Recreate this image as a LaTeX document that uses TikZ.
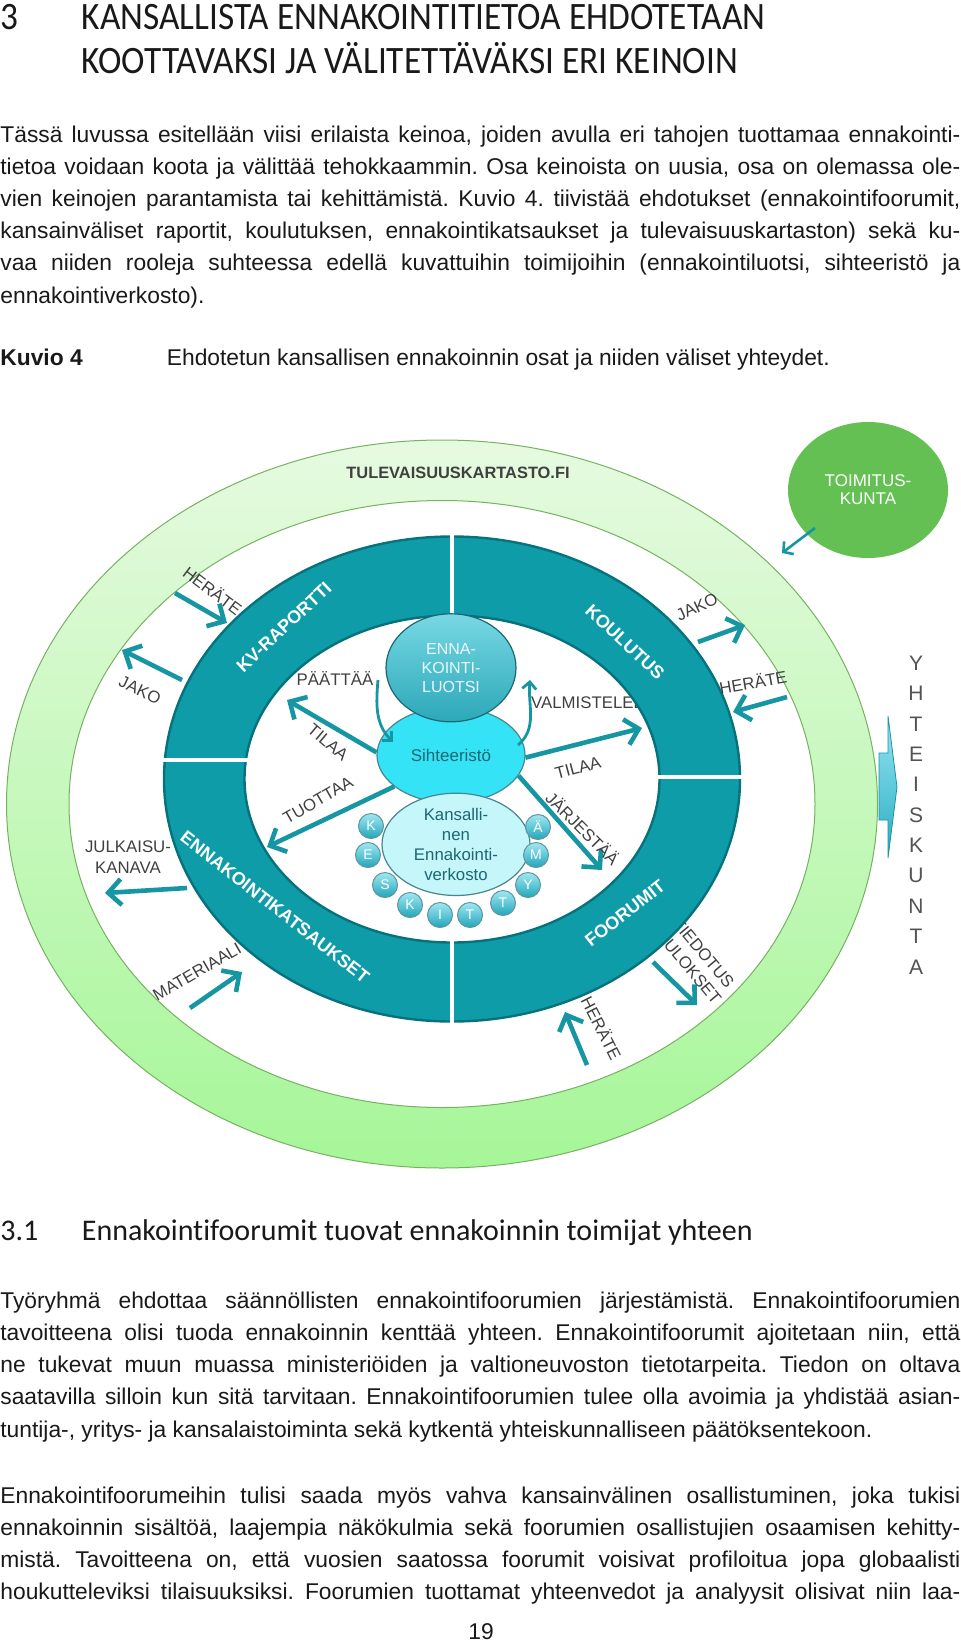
\documentclass[tikz,border=0pt]{standalone}
\usepackage{fontspec}
\setmainfont{Liberation Sans}
\newfontfamily\headfont[FakeStretch=0.91, Ligatures=NoCommon]{Carlito}
\newfontfamily\subheadfont[Ligatures=NoCommon]{Carlito}
\usepackage{xcolor}
\usetikzlibrary{shapes.geometric, arrows.meta, positioning}
\frenchspacing

\definecolor{bodyblack}{RGB}{25,25,25}
\definecolor{ringteal}{RGB}{14,156,168}
\definecolor{ringedge}{RGB}{8,114,124}
\definecolor{arrowteal}{RGB}{22,150,162}
\definecolor{bandtop}{RGB}{230,250,224}
\definecolor{bandbottom}{RGB}{166,246,152}
\definecolor{bandedge}{RGB}{118,178,98}
\definecolor{toimgreen}{RGB}{100,192,82}
\definecolor{labelgray}{RGB}{64,64,64}
\definecolor{darkteal}{RGB}{28,104,114}
\definecolor{luotsitop}{RGB}{120,216,228}
\definecolor{luotsibot}{RGB}{44,168,184}
\definecolor{sihtcyan}{RGB}{52,228,246}
\definecolor{verklight}{RGB}{196,246,250}
\definecolor{balltop}{RGB}{160,232,242}
\definecolor{ballbot}{RGB}{34,166,186}
\definecolor{yarrowtop}{RGB}{150,230,244}
\definecolor{yarrowbot}{RGB}{40,172,192}

\begin{document}
\begin{tikzpicture}[x=0.5pt, y=-0.5pt,
    bodyline/.style={anchor=base west, inner sep=0pt, text=bodyblack, font=\fontsize{11.4}{14}\selectfont},
    headline/.style={anchor=base west, inner sep=0pt, text=bodyblack, font=\headfont\fontsize{19.4}{21}\selectfont},
    subline/.style={anchor=base west, inner sep=0pt, text=bodyblack, font=\subheadfont\fontsize{15}{17}\selectfont},
    flowlabel/.style={inner sep=0pt, text=labelgray, align=center, font=\fontsize{8.4}{10}\selectfont},
    ringlabel/.style={inner sep=0pt, text=white, font=\bfseries\fontsize{9}{10}\selectfont},
    flowarrow/.style={draw=arrowteal, line width=2.3pt, -{Straight Barb[length=6.5pt, width=13pt]}},
    curvearrow/.style={draw=arrowteal, line width=1.4pt, -{Straight Barb[length=3.5pt, width=7pt]}},
    luotsibox/.style={ellipse, draw=darkteal, line width=0.6pt, top color=luotsitop, bottom color=luotsibot, text=white!92!cyan, align=center, minimum width=65pt, minimum height=54pt, inner sep=0pt, font=\fontsize{8}{9.5}\selectfont},
    sihtbox/.style={ellipse, draw=darkteal!80, line width=0.6pt, fill=sihtcyan, text=darkteal, minimum width=74pt, minimum height=48pt, inner sep=0pt, font=\fontsize{8.5}{10}\selectfont},
    verkbox/.style={ellipse, draw=darkteal!80, line width=0.6pt, fill=verklight, text=darkteal, align=center, minimum width=74pt, minimum height=49pt, inner sep=0pt, font=\fontsize{8.4}{10}\selectfont},
    ball/.style={circle, minimum size=12.5pt, inner sep=0pt, draw=darkteal!70, line width=0.5pt, top color=balltop, bottom color=ballbot, text=white, font=\fontsize{7}{8}\selectfont}]

    \useasboundingbox (0,0) rectangle (960,1644);

    % Page text above the figure
    \node[headline] (hnum) at (0,29) {3};
    \node[headline] (hone) at (81.5,29) {KANSALLISTA ENNAKOINTITIETOA EHDOTETAAN};
    \node[headline] (htwo) at (81.5,73) {KOOTTAVAKSI JA VÄLITETTÄVÄKSI ERI KEINOIN};

    \foreach \txt [count=\i from 0] in {
        {Tässä luvussa esitellään viisi erilaista keinoa, joiden avulla eri tahojen tuottamaa ennakointi-},
        {tietoa voidaan koota ja välittää tehokkaammin. Osa keinoista on uusia, osa on olemassa ole-},
        {vien keinojen parantamista tai kehittämistä. Kuvio 4. tiivistää ehdotukset (ennakointifoorumit,},
        {kansainväliset raportit, koulutuksen, ennakointikatsaukset ja tulevaisuuskartaston) sekä ku-},
        {vaa niiden rooleja suhteessa edellä kuvattuihin toimijoihin (ennakointiluotsi, sihteeristö ja}}
        \node[bodyline] (intro\i) at (0,{142+32.2*\i}) {\makebox[480pt][s]{\txt}};
    \node[bodyline] (introlast) at (0,303) {ennakointiverkosto).};

    \node[bodyline, font=\fontsize{11.4}{14}\selectfont\bfseries] (kuvio) at (0,365) {Kuvio 4};
    \node[bodyline] (caption) at (166.5,365) {Ehdotetun kansallisen ennakoinnin osat ja niiden väliset yhteydet.};

    % Outer green band
    \shade[top color=bandtop, bottom color=bandbottom, even odd rule]
        (442,804) ellipse [x radius=435.5, y radius=364]
        (442,804) ellipse [x radius=373, y radius=303.5];
    \draw[bandedge, line width=0.5pt]
        (442,804) ellipse [x radius=435.5, y radius=364]
        (442,804) ellipse [x radius=373, y radius=303.5];
    \node[inner sep=0pt, text=labelgray, font=\bfseries\fontsize{8.2}{10}\selectfont] (kartasto) at (458,473) {TULEVAISUUSKARTASTO.FI};

    % Labels partly under the ring
    \node[flowlabel, rotate=30] (materiaali) at (197,972) {MATERIAALI};
    \node[flowlabel] (valmistelee) at (588,703) {VALMISTELEE};
    \node[flowlabel, align=left, rotate=-50] (tiedotus) at (697,961) {TIEDOTUS\\TULOKSET};

    % Teal ring
    \fill[ringteal, even odd rule]
        (452,779) ellipse [x radius=288, y radius=242.5]
        (452,779) ellipse [x radius=207.5, y radius=163.5];
    \draw[ringedge, line width=1.2pt]
        (452,779) ellipse [x radius=288, y radius=242.5]
        (452,779) ellipse [x radius=207.5, y radius=163.5];
    \draw[white, line width=2.2pt] (452,532) -- (452,620) (452,937) -- (452,1027)
        (158,760) -- (250,760) (655,777) -- (745,777);

    \node[ringlabel, rotate=43] (kvraportti) at (284,627) {KV-RAPORTTI};
    \node[ringlabel, rotate=-43] (koulutus) at (625,642) {KOULUTUS};
    \node[ringlabel, rotate=-38] (katsaukset) at (275,907) {ENNAKOINTIKATSAUKSET};
    \node[ringlabel, rotate=38] (foorumit) at (625,913) {FOORUMIT};

    % Actors in the middle
    \node[sihtbox] (sihteeristo) at (451,755) {Sihteeristö};
    \node[luotsibox, above=-8pt of sihteeristo] (luotsi) {ENNA-\\KOINTI-\\LUOTSI};
    \node[verkbox, below=-5.5pt of sihteeristo, xshift=2.5pt] (verkosto) {Kansalli-\\nen\\Ennakointi-\\verkosto};
    \foreach \l/\x/\y [count=\i] in {K/371/826, E/368/855, S/385/885, K/410/905, I/440/915,
        T/470/915, T/503/903, Y/528/885, M/536/855, Ä/538/827}
        \node[ball] (ball\i) at (\x,\y) {\l};

    % Arrows from the secretariat
    \coordinate (tilaaleft) at (287,700);
    \coordinate (tuottaaend) at (267,847);
    \coordinate (tilaaright) at (642,728);
    \coordinate (jarjend) at (602,870);
    \draw[flowarrow] (sihteeristo.178) -- (tilaaleft);
    \draw[flowarrow] (sihteeristo.209) -- (tuottaaend);
    \draw[flowarrow] (sihteeristo.358) -- (tilaaright);
    \draw[flowarrow] (sihteeristo.343) -- (jarjend);

    \coordinate (paatstart) at (378,680);
    \coordinate (paatend) at (393,742);
    \coordinate (valmstart) at (518,745);
    \coordinate (valmend) at (530,680);
    \draw[curvearrow] (paatstart) to[out=-95, in=135] (paatend);
    \draw[curvearrow] (valmstart) to[out=40, in=-95] (valmend);

    \node[flowlabel] (paattaa) at (335,678) {PÄÄTTÄÄ};
    \node[flowlabel, rotate=-40] (tilaa1) at (328,742) {TILAA};
    \node[flowlabel, rotate=30] (tuottaa) at (318,800) {TUOTTAA};
    \node[flowlabel, rotate=15] (tilaa2) at (578,768) {TILAA};
    \node[flowlabel, rotate=-45] (jarjestaa) at (583,828) {JÄRJESTÄÄ};

    % Arrows between the ring and the outer band
    \coordinate (kvherate) at (175,593);   \coordinate (kvherateend) at (227,623);
    \coordinate (kvjako) at (182,680);     \coordinate (kvjakoend) at (122,650);
    \coordinate (julk) at (187,888);       \coordinate (julkend) at (105,893);
    \coordinate (matin) at (190,1008);     \coordinate (matinend) at (242,972);
    \coordinate (koujako) at (698,642);    \coordinate (koujakoend) at (745,625);
    \coordinate (kouherate) at (787,697);  \coordinate (kouherateend) at (733,712);
    \coordinate (tiedout) at (653,962);    \coordinate (tiedoutend) at (697,1005);
    \coordinate (foorherate) at (587,1065); \coordinate (foorherateend) at (565,1012);
    \draw[flowarrow] (kvherate) -- (kvherateend);
    \draw[flowarrow] (kvjako) -- (kvjakoend);
    \draw[flowarrow] (julk) -- (julkend);
    \draw[flowarrow] (matin) -- (matinend);
    \draw[flowarrow] (koujako) -- (koujakoend);
    \draw[flowarrow] (kouherate) -- (kouherateend);
    \draw[flowarrow] (tiedout) -- (tiedoutend);
    \draw[flowarrow] (foorherate) -- (foorherateend);

    \node[flowlabel, rotate=-37] (herate1) at (213,590) {HERÄTE};
    \node[flowlabel, rotate=-25] (jako1) at (140,690) {JAKO};
    \node[flowlabel, font=\fontsize{8.4}{10.5}\selectfont] (julkaisu) at (128,857) {JULKAISU-\\KANAVA};
    \node[flowlabel, rotate=25] (jako2) at (697,607) {JAKO};
    \node[flowlabel, rotate=10] (herate2) at (753,682) {HERÄTE};
    \node[flowlabel, rotate=-63] (herate3) at (602,1028) {HERÄTE};

    % Editorial board
    \node[ellipse, fill=toimgreen, minimum width=80pt, minimum height=68pt, inner sep=0pt, text=white, align=center, font=\fontsize{8.5}{9}\selectfont] (toimitus) at (868,490) {TOIMITUS-\\KUNTA};
    \coordinate (toimstart) at (815,528);
    \coordinate (toimend) at (782,553);
    \draw[draw=arrowteal, line width=1.3pt, -{Straight Barb[length=3.5pt, width=8pt]}] (toimstart) -- (toimend);

    % Society
    \shade[top color=yarrowtop, bottom color=yarrowbot, draw=arrowteal, line width=0.4pt]
        (879,753) -- (888,753) -- (888,716) -- (897,787) -- (888,858) -- (888,820) -- (879,820) -- cycle;
    \foreach \c [count=\i from 0] in {Y,H,T,E,I,S,K,U,N,T,A}
        \node[inner sep=0pt, text=labelgray!90, font=\fontsize{10.5}{12}\selectfont] (society\i) at (916,{663+30.4*\i}) {\c};

    % Page text below the figure
    \node[subline] (snum) at (0,1240) {3.1};
    \node[subline] (stitle) at (81.5,1240) {Ennakointifoorumit tuovat ennakoinnin toimijat yhteen};

    \foreach \txt [count=\i from 0] in {
        {Työryhmä ehdottaa säännöllisten ennakointifoorumien järjestämistä. Ennakointifoorumien},
        {tavoitteena olisi tuoda ennakoinnin kenttää yhteen. Ennakointifoorumit ajoitetaan niin, että},
        {ne tukevat muun muassa ministeriöiden ja valtioneuvoston tietotarpeita. Tiedon on oltava},
        {saatavilla silloin kun sitä tarvitaan. Ennakointifoorumien tulee olla avoimia ja yhdistää asian-}}
        \node[bodyline] (forum\i) at (0,{1308+32.2*\i}) {\makebox[480pt][s]{\txt}};
    \node[bodyline] (forumlast) at (0,1437) {tuntija-, yritys- ja kansalaistoiminta sekä kytkentä yhteiskunnalliseen päätöksentekoon.};

    \foreach \txt [count=\i from 0] in {
        {Ennakointifoorumeihin tulisi saada myös vahva kansainvälinen osallistuminen, joka tukisi},
        {ennakoinnin sisältöä, laajempia näkökulmia sekä foorumien osallistujien osaamisen kehitty-},
        {mistä. Tavoitteena on, että vuosien saatossa foorumit voisivat profiloitua jopa globaalisti},
        {houkutteleviksi tilaisuuksiksi. Foorumien tuottamat yhteenvedot ja analyysit olisivat niin laa-}}
        \node[bodyline] (intl\i) at (0,{1503+32.2*\i}) {\makebox[480pt][s]{\txt}};

    \node[bodyline, anchor=base] (pagenum) at (481,1639) {19};
\end{tikzpicture}
\end{document}
